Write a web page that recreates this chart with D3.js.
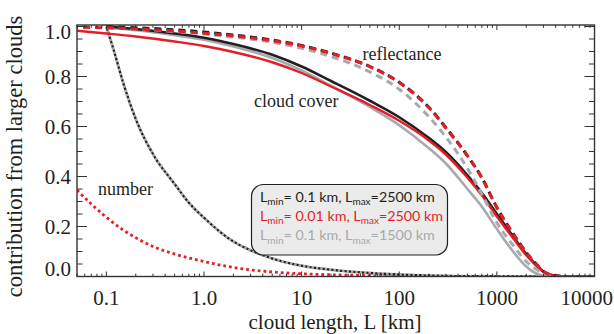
<!DOCTYPE html>
<html>
<head>
<meta charset="utf-8">
<script src="https://cdn.jsdelivr.net/npm/d3@7"></script>
<style>
  html, body { margin: 0; padding: 0; background: #fff; }
  svg { display: block; }
  .tick-label { font-family: "Liberation Serif", "Times New Roman", serif; font-size: 21px; fill: #231f20; }
  .note { font-family: "Liberation Serif", "Times New Roman", serif; font-size: 18px; fill: #231f20; }
  .legend { font-family: "Lato", "Open Sans", sans-serif; font-size: 14.3px; }
</style>
</head>
<body>
<svg id="chart" width="614" height="334"></svg>
<script>
// Cloud length grid (km) and contribution curves
const lengthsRed   = [0.05, 0.1, 0.2, 0.5, 1, 2, 5, 10, 20, 50, 100, 200, 300, 500, 700, 1000, 1500, 2000, 2500, 3000, 4000, 5000, 10000];
const lengthsBlack = [0.1, 0.2, 0.5, 1, 2, 5, 10, 20, 50, 100, 200, 300, 500, 700, 1000, 1500, 2000, 2500, 3000, 4000, 5000, 10000];

// cloud cover (solid)
const coverBlack = [1.0, 0.99, 0.972, 0.955, 0.93, 0.887, 0.84, 0.782, 0.703, 0.637, 0.555, 0.498, 0.405, 0.335, 0.25, 0.155, 0.09, 0.048, 0.02, 0.003, 0, 0];
const coverRed   = [0.983, 0.972, 0.96, 0.94, 0.922, 0.898, 0.857, 0.814, 0.76, 0.686, 0.623, 0.545, 0.488, 0.395, 0.325, 0.24, 0.148, 0.085, 0.045, 0.018, 0.002, 0, 0];
const coverGray  = [0.995, 0.985, 0.965, 0.947, 0.92, 0.874, 0.824, 0.763, 0.678, 0.605, 0.514, 0.452, 0.35, 0.28, 0.19, 0.095, 0.04, 0.013, 0.003, 0, 0, 0];

// reflectance (dashed)
const reflBlack = [1.0, 0.995, 0.987, 0.978, 0.966, 0.946, 0.924, 0.894, 0.84, 0.777, 0.678, 0.596, 0.483, 0.396, 0.276, 0.166, 0.096, 0.052, 0.02, 0.003, 0, 0];
const reflRed   = [0.997, 0.995, 0.99, 0.982, 0.973, 0.962, 0.943, 0.922, 0.892, 0.839, 0.776, 0.676, 0.594, 0.482, 0.395, 0.275, 0.165, 0.095, 0.052, 0.02, 0.003, 0, 0];
const reflGray  = [0.995, 0.99, 0.98, 0.97, 0.958, 0.937, 0.913, 0.88, 0.818, 0.749, 0.64, 0.558, 0.432, 0.33, 0.215, 0.12, 0.06, 0.03, 0.012, 0, 0, 0];

// number (dotted)
const numLengthsBlack = [0.1, 0.12, 0.15, 0.2, 0.3, 0.5, 0.7, 1, 2, 3, 5, 10, 20, 50, 100, 200, 500, 1000, 10000];
const numBlack        = [1.0, 0.9, 0.77, 0.63, 0.49, 0.37, 0.295, 0.235, 0.14, 0.105, 0.072, 0.043, 0.027, 0.014, 0.008, 0.004, 0.001, 0.0005, 0];
const numLengthsRed   = [0.05, 0.07, 0.1, 0.15, 0.2, 0.3, 0.5, 1, 2, 5, 10, 20, 50, 100, 1000, 10000];
const numRed          = [0.346, 0.29, 0.237, 0.185, 0.155, 0.12, 0.09, 0.06, 0.036, 0.018, 0.011, 0.007, 0.004, 0.002, 0.0003, 0];

// axes
const xTickValues = [0.1, 1, 10, 100, 1000, 10000];
const xTickLabels = ["0.1", "1.0", "10", "100", "1000", "10000"];
const yTickValues = [0, 0.2, 0.4, 0.6, 0.8, 1.0];
const yTickLabels = ["0.0", "0.2", "0.4", "0.6", "0.8", "1.0"];

const legendRows = [
  { min: "0.1",  max: "2500", color: "#231f20" },
  { min: "0.01", max: "2500", color: "#e41e26" },
  { min: "0.1",  max: "1500", color: "#a7a9ac" }
];

const BLACK = "#231f20", RED = "#e41e26", GRAY = "#a7a9ac";

const svg = d3.select("#chart");
const plotL = 77, plotR = 594.5, plotT = 25, plotB = 276.5;

const x = d3.scaleLog().domain([0.05, 10000]).range([plotL, plotR]);
const y = d3.scaleLinear().domain([0, 1.006]).range([plotB, plotT]);

svg.append("defs").append("clipPath").attr("id", "plotClip")
  .append("rect").attr("x", plotL).attr("y", plotT - 2).attr("width", plotR - plotL).attr("height", plotB - plotT + 2);

const plot = svg.append("g").attr("clip-path", "url(#plotClip)");

function curve(xs, ys, color, width, dash, offset) {
  const pts = xs.map((L, i) => [L, ys[i]]);
  const line = d3.line().x(d => x(d[0])).y(d => y(d[1])).curve(d3.curveMonotoneX);
  const p = plot.append("path").datum(pts)
    .attr("d", line)
    .attr("fill", "none")
    .attr("stroke", color)
    .attr("stroke-width", width)
    .attr("stroke-linejoin", "round");
  if (dash) p.attr("stroke-dasharray", dash);
  if (offset) p.attr("stroke-dashoffset", offset);
  return p;
}

// number of clouds (dotted)
curve(numLengthsRed, numRed, RED, 2.8, "2.8,3");
curve(numLengthsBlack, numBlack, GRAY, 3, "2.2,2.2");
curve(numLengthsBlack, numBlack, BLACK, 2.4, "2.2,2.2", 2.2);

// cloud cover (solid)
curve(lengthsBlack, coverGray, GRAY, 2.6);
curve(lengthsBlack, coverBlack, BLACK, 2.6);
curve(lengthsRed, coverRed, RED, 2.4);

// reflectance (dashed)
curve(lengthsBlack, reflGray, GRAY, 3, "7,5");
curve(lengthsBlack, reflBlack, BLACK, 3, "7,5");
curve(lengthsRed, reflRed, RED, 3, "7,5", 6);

// frame and ticks
const axisG = svg.append("g");
const xMinor = [];
for (let e = -2; e <= 3; e++) for (let m = 1; m <= 9; m++) {
  const v = m * Math.pow(10, e);
  if (v >= 0.05 && v <= 10000 && m !== 1) xMinor.push(v);
}
const yMinor = d3.range(0, 1.001, 0.05).filter(v => Math.abs(v * 5 - Math.round(v * 5)) > 1e-6);

function tickLines(vals, scale, orient, len) {
  vals.forEach(v => {
    const p = scale(v);
    if (orient === "bottom") axisG.append("line").attr("x1", p).attr("x2", p).attr("y1", plotB).attr("y2", plotB - len);
    if (orient === "top")    axisG.append("line").attr("x1", p).attr("x2", p).attr("y1", plotT).attr("y2", plotT + len);
    if (orient === "left")   axisG.append("line").attr("y1", p).attr("y2", p).attr("x1", plotL).attr("x2", plotL + len);
    if (orient === "right")  axisG.append("line").attr("y1", p).attr("y2", p).attr("x1", plotR).attr("x2", plotR - len);
  });
}
tickLines(xTickValues, x, "bottom", 5); tickLines(xMinor, x, "bottom", 2.8);
tickLines(xTickValues, x, "top", 5);    tickLines(xMinor, x, "top", 2.8);
tickLines(yTickValues, y, "left", 10);  tickLines(yMinor, y, "left", 5.5);
tickLines(yTickValues, y, "right", 10); tickLines(yMinor, y, "right", 5.5);
axisG.selectAll("line").attr("stroke", "#333").attr("stroke-width", 1);

axisG.append("rect").attr("x", plotL).attr("y", plotT).attr("width", plotR - plotL).attr("height", plotB - plotT)
  .attr("fill", "none").attr("stroke", "#333").attr("stroke-width", 1.4);

// tick labels
xTickValues.forEach((v, i) => {
  const last = i === xTickValues.length - 1;
  svg.append("text").attr("class", "tick-label")
    .attr("x", last ? 613 : x(v)).attr("y", 305)
    .attr("text-anchor", last ? "end" : "middle")
    .text(xTickLabels[i]);
});
yTickValues.forEach((v, i) => {
  let shift = 7;
  if (i === 0) shift = -1;
  if (i === yTickValues.length - 1) shift = 12;
  svg.append("text").attr("class", "tick-label")
    .attr("x", 71).attr("y", y(v) + shift)
    .attr("text-anchor", "end")
    .text(yTickLabels[i]);
});

// axis titles
svg.append("text").attr("class", "tick-label")
  .attr("x", 335).attr("y", 329).attr("text-anchor", "middle")
  .text("cloud length, L [km]");
svg.append("text").attr("class", "tick-label")
  .attr("transform", "translate(22,156.5) rotate(-90)")
  .attr("text-anchor", "middle").style("font-size", "22.5px")
  .text("contribution from larger clouds");

// curve notes
svg.append("text").attr("class", "note").attr("x", 362.5).attr("y", 60).text("reflectance");
svg.append("text").attr("class", "note").attr("x", 254).attr("y", 107).text("cloud cover");
svg.append("text").attr("class", "note").attr("x", 98).attr("y", 194.5).text("number");

// legend
const lg = svg.append("g");
lg.append("rect").attr("x", 251.5).attr("y", 184.5).attr("width", 196).attr("height", 70.5)
  .attr("rx", 12).attr("ry", 12).attr("fill", "#ebebeb").attr("stroke", "#231f20").attr("stroke-width", 1.2);
legendRows.forEach((r, i) => {
  const t = lg.append("text").attr("class", "legend")
    .attr("x", 260).attr("y", 201.5 + i * 19.3).attr("fill", r.color);
  t.append("tspan").text("L");
  t.append("tspan").attr("dy", 3.5).style("font-size", "10px").text("min");
  t.append("tspan").attr("dy", -3.5).text(`= ${r.min} km, L`);
  t.append("tspan").attr("dy", 3.5).style("font-size", "10px").text("max");
  t.append("tspan").attr("dy", -3.5).text(`=${r.max} km`);
});
</script>
</body>
</html>
